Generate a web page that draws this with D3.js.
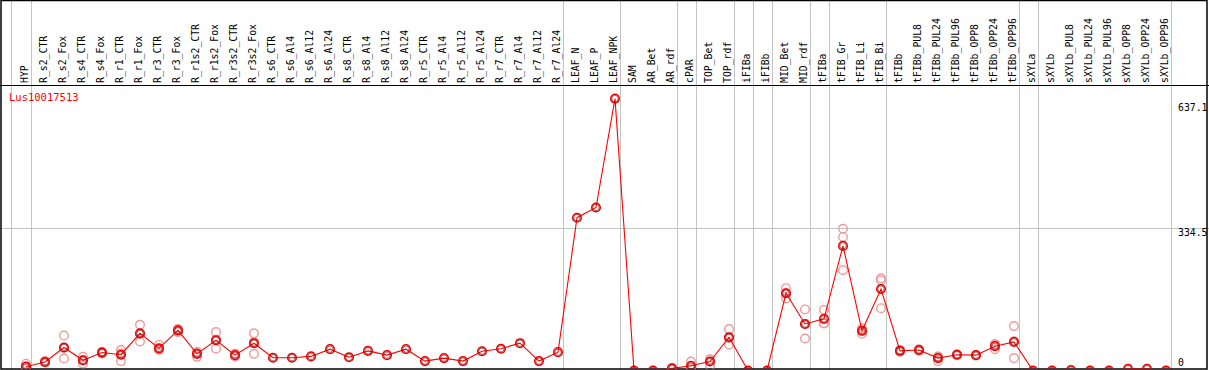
<!DOCTYPE html>
<html><head><meta charset="utf-8">
<script src="https://cdn.jsdelivr.net/npm/d3@7"></script>
<style>html,body{margin:0;padding:0;background:#fff;}svg{display:block;}</style>
</head><body>
<script>
const categories = ["HYP","R_s2_CTR","R_s2_Fox","R_s4_CTR","R_s4_Fox","R_r1_CTR","R_r1_Fox","R_r3_CTR","R_r3_Fox","R_r1s2_CTR","R_r1s2_Fox","R_r3s2_CTR","R_r3s2_Fox","R_s6_CTR","R_s6_Al4","R_s6_Al12","R_s6_Al24","R_s8_CTR","R_s8_Al4","R_s8_Al12","R_s8_Al24","R_r5_CTR","R_r5_Al4","R_r5_Al12","R_r5_Al24","R_r7_CTR","R_r7_Al4","R_r7_Al12","R_r7_Al24","LEAF_N","LEAF_P","LEAF_NPK","SAM","AR_Bet","AR_rdf","cPAR","TOP_Bet","TOP_rdf","iFIBa","iFIBb","MID_Bet","MID_rdf","tFIBa","tFIB_Gr","tFIB_Li","tFIB_Bi","tFIBb","tFIBb_PUL8","tFIBb_PUL24","tFIBb_PUL96","tFIBb_OPP8","tFIBb_OPP24","tFIBb_OPP96","sXYLa","sXYLb","sXYLb_PUL8","sXYLb_PUL24","sXYLb_PUL96","sXYLb_OPP8","sXYLb_OPP24","sXYLb_OPP96"];
const meanValues = [9,20,54,24,42,37,87,52,94,39,71,36,64,30,30,33,50,31,46,36,50,22,29,22,45,51,64,22,43,358,382,637.1,0,0,5,11,21,78,0,0,181,109,121,292,93,191,46,48,29,37,36,57,67,0,0,1,0,0,4,4,0];
const replicates = [[16,9,4],[22,19,20],[82,28,53],[32,16,24],[44,40,42],[48,22,40],[107,68,86],[60,48,49],[97,90,95],[41,32,44],[90,51,72],[40,35,33],[87,39,66],[],[],[],[],[],[],[],[],[],[],[],[],[],[],[],[],[],[],[],[],[],[6,4,5],[21,6,6],[26,11,26],[97,61,76],[],[],[193,169,181],[143,75,109],[142,111,110],[332,313,235],[99,86,94],[211,146,216],[48,44,46],[50,46,48],[22,33,32],[36,38],[36,35],[62,50,59],[104,29,68],[],[],[],[],[],[],[],[]];
const groupBreaks = ["HYP","R_r7_Al24","LEAF_NPK","AR_rdf","cPAR","TOP_rdf","iFIBa","iFIBb","MID_rdf","tFIBa","tFIB_Bi","tFIBb_OPP96","sXYLa","sXYLb_OPP96"];
const yTicks = [637.1, 334.5, 0];
const yMax = 669;
const geneName = "Lus10017513";

const W = 1209, H = 370;
const svg = d3.select("body").append("svg").attr("width", W).attr("height", H);
const font = "'DejaVu Sans Mono', 'Liberation Mono', monospace";

const x = d3.scalePoint().domain(categories).range([26, 1166]);
const y = d3.scaleLinear().domain([0, yMax]).range([370.5, 85]);

// group separators
const sepX = [x(categories[0]) - 15].concat(groupBreaks.map(c => x(c) + 4.5));
svg.append("g").selectAll("line").data(sepX).join("line")
  .attr("x1", d => Math.round(d) + 0.5).attr("x2", d => Math.round(d) + 0.5)
  .attr("y1", 0).attr("y2", H)
  .attr("stroke", "#c4c4c4").attr("stroke-width", 1);

// horizontal mid gridline
svg.append("line").attr("x1", 0).attr("x2", W)
  .attr("y1", Math.round(y(334.5)) + 0.5).attr("y2", Math.round(y(334.5)) + 0.5)
  .attr("stroke", "#c4c4c4").attr("stroke-width", 1);

// header labels
svg.append("g").selectAll("text").data(categories).join("text")
  .attr("transform", d => `translate(${x(d) + 2},83) rotate(-90)`)
  .attr("font-family", font).attr("font-size", "9.8px").attr("fill", "#000")
  .text(d => d);

// frame lines
svg.append("line").attr("x1", 0).attr("x2", W).attr("y1", 85.5).attr("y2", 85.5).attr("stroke", "#000").attr("stroke-width", 1);
svg.append("rect").attr("x", 1).attr("y", 0.5).attr("width", 1206).attr("height", 368.5)
  .attr("fill", "none").attr("stroke", "#000").attr("stroke-width", 1.5);

// y labels on right
svg.append("g").selectAll("text").data(yTicks).join("text")
  .attr("x", 1178)
  .attr("y", d => d === 0 ? y(d) - 5 : (d === yTicks[0] ? y(d) + 12.5 : y(d) + 8.5))
  .attr("font-family", font).attr("font-size", "9.8px").attr("fill", "#000")
  .text(d => d);

// gene name
svg.append("text").attr("x", 9).attr("y", 101).attr("font-family", font)
  .attr("font-size", "10.5px").attr("fill", "#ff0000").text(geneName);

const plot = svg.append("g");
plot.append("clipPath").attr("id", "clip").append("rect").attr("x", 2).attr("y", 86).attr("width", 1204).attr("height", 282.5);
const pg = plot.append("g").attr("clip-path", "url(#clip)");

// replicate circles
const repData = [];
replicates.forEach((arr, i) => arr.forEach(v => repData.push({c: categories[i], v})));
pg.append("g").selectAll("circle").data(repData).join("circle")
  .attr("cx", d => x(d.c)).attr("cy", d => y(d.v)).attr("r", 4.3)
  .attr("fill", "none").attr("stroke", "#f09a9a").attr("stroke-width", 1.4);

// line
const line = d3.line().x((d, i) => x(categories[i])).y(d => y(d));
pg.append("path").datum(meanValues).attr("d", line)
  .attr("fill", "none").attr("stroke", "#ff0000").attr("stroke-width", 1.1);

// mean circles
const mg = pg.append("g").selectAll("g").data(meanValues).join("g")
  .attr("transform", (d, i) => `translate(${x(categories[i])},${y(d)})`);
mg.append("circle").attr("r", 4.3).attr("fill", "none").attr("stroke", "#ee0000").attr("stroke-width", 1.5);
mg.append("circle").attr("r", 3.2).attr("fill", "none").attr("stroke", "#700000").attr("stroke-width", 0.6);
</script>
</body></html>
